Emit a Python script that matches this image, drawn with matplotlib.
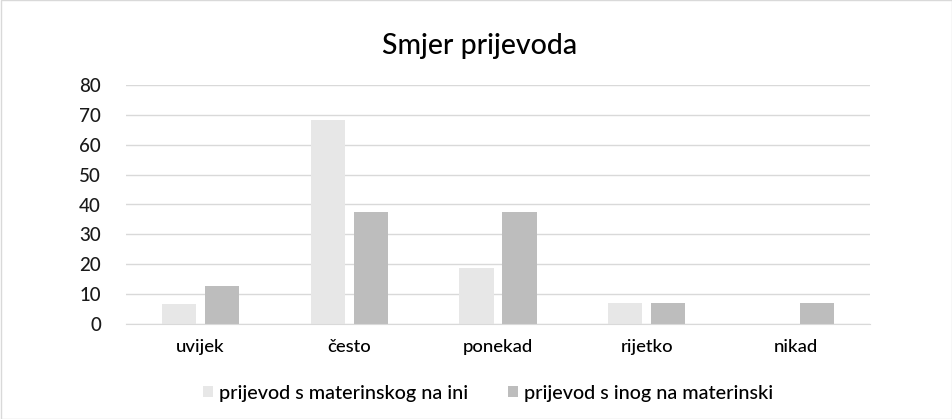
import matplotlib
matplotlib.use("Agg")
import matplotlib.pyplot as plt
import numpy as np
from matplotlib.patches import Rectangle

categories = ["uvijek", "često", "ponekad", "rijetko", "nikad"]
series_names = ["prijevod s materinskog na ini", "prijevod s inog na materinski"]
s1 = [6.7, 68.2, 18.7, 7.0, 0]
s2 = [12.7, 37.5, 37.5, 7.0, 7.0]
yticks = [0, 10, 20, 30, 40, 50, 60, 70, 80]
title = "Smjer prijevoda"

plt.rcParams['font.family'] = ['Lato', 'DejaVu Sans']
plt.rcParams['font.weight'] = 'medium'

W, H = 953, 419
fig = plt.figure(figsize=(W/100, H/100), dpi=100)
ax = fig.add_axes([126/W, 1-324/H, (870-126)/W, (324-85)/H])

x = np.arange(len(categories))
bw = 0.23
off = 0.145
ax.bar(x - off, s1, bw, color="#E7E7E7", label=series_names[0], zorder=3)
ax.bar(x + off, s2, bw, color="#BDBDBD", label=series_names[1], zorder=3)

ax.set_xlim(-0.5, len(categories)-0.5)
ax.set_ylim(0, 80)
ax.set_yticks(yticks)
ax.set_yticklabels([str(v) for v in yticks], fontsize=13.5, color="#1a1a1a")
ax.set_xticks(x)
ax.set_xticklabels(categories, fontsize=13.3, color="#000000")
ax.tick_params(axis='both', length=0)
ax.tick_params(axis='y', pad=18)
ax.tick_params(axis='x', pad=11)
ax.yaxis.grid(True, color="#D9D9D9", linewidth=1, zorder=0)
for s in ["top", "right", "left"]:
    ax.spines[s].set_visible(False)
ax.spines["bottom"].set_color("#D9D9D9")
ax.spines["bottom"].set_zorder(4)

fig.text(480/W, 1-46/H, title, ha="center", va="center", fontsize=20.5, color="#000000")

leg = fig.legend(loc="center", bbox_to_anchor=(488/W, 1-393/H), ncol=2, frameon=False,
                 fontsize=14.2, handlelength=0.51, handleheight=0.51, handletextpad=0.3,
                 columnspacing=2.0)

fig.patches.append(Rectangle((0.5/W, 0.5/H), 1-1/W, 1-1/H, transform=fig.transFigure,
                             fill=False, edgecolor="#D9D9D9", linewidth=1))

fig.savefig("out.png", dpi=100)
